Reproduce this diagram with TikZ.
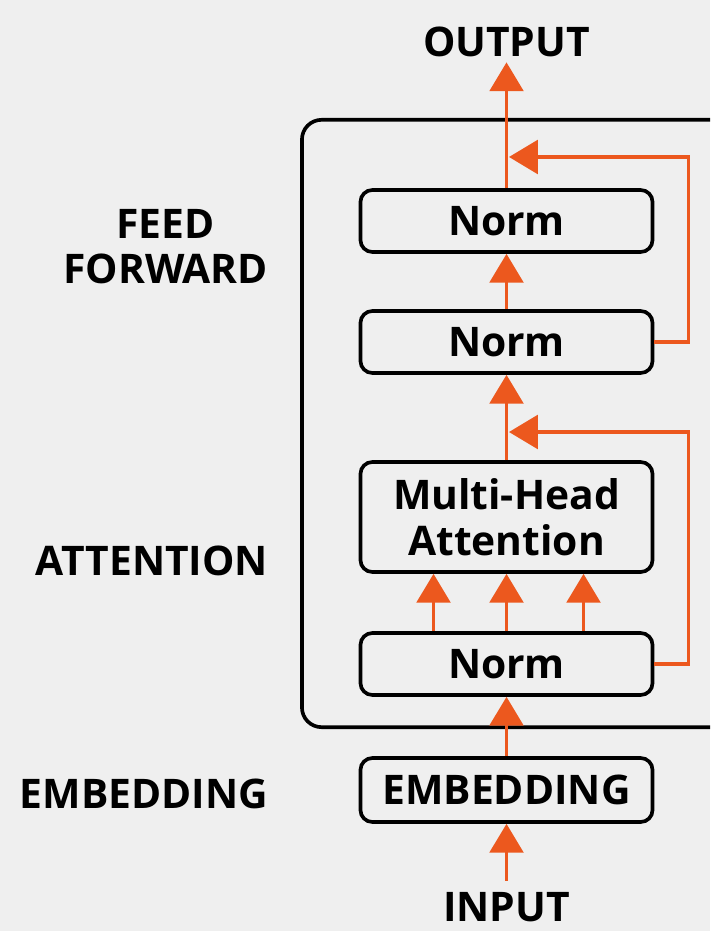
\documentclass[tikz,border=0pt]{standalone}
\usepackage{fontspec}
\setmainfont{Open Sans}
\usetikzlibrary{arrows.meta}
\definecolor{paper}{RGB}{239,239,239}
\definecolor{rust}{RGB}{236,88,30}
\newcommand\bigfont{\fontsize{29}{33}\selectfont\bfseries}

\begin{document}
\begin{tikzpicture}[x=0.025cm,y=-0.025cm,
  box/.style={draw,line width=2.6pt,rounded corners=8.5pt,minimum width=7.3cm,
    minimum height=1.55cm,inner sep=0pt,font=\bigfont},
  lbl/.style={font=\bigfont,align=center},
  arr/.style={draw=rust,line width=2.5pt,-{Triangle[length=0.72cm,width=0.84cm]}}]
  \fill[paper] (0,0) rectangle (710,931);
  \clip (0,0) rectangle (710,931);
  \node[draw,line width=2.6pt,rounded corners=14pt,minimum width=11.45cm,
    minimum height=15.18cm] (block) at (531,423.5) {};
  \node[box] (normc) at (506.5,221) {Norm};
  \node[box] (normb) at (506.5,342) {Norm};
  \node[box,minimum height=2.75cm,align=center] (mha) at (506.5,517) {Multi-Head\\Attention};
  \node[box] (norma) at (506.5,664) {Norm};
  \node[box,minimum height=1.6cm] (embed) at (506.5,790) {EMBEDDING};
  \node[lbl,anchor=base] (output) at (506.5,57) {OUTPUT};
  \node[lbl,anchor=base,inner ysep=2pt] (input) at (506.5,921) {INPUT};
  \node[lbl,anchor=east,font=\fontsize{29}{32}\selectfont\bfseries] (ffwd) at (273,247) {FEED\\FORWARD};
  \node[lbl,anchor=base east] (attn) at (273,575) {ATTENTION};
  \node[lbl,anchor=base east] (emb) at (273,808) {EMBEDDING};
  \coordinate (join1) at (509,432);
  \coordinate (join2) at (509,157);
  \draw[arr] ([yshift=0.2cm]input.north) -- (embed);
  \draw[arr] (embed) -- (norma);
  \foreach \dx in {-73,0,77}
    \draw[arr] ([xshift=\dx*0.025cm]norma.north) -- ([xshift=\dx*0.025cm]mha.south);
  \draw[arr] (mha) -- (normb);
  \draw[arr] (normb) -- (normc);
  \draw[arr] (normc) -- (output);
  \draw[arr] (norma.east) -- ++(34,0) |- (join1);
  \draw[arr] (normb.east) -- ++(34,0) |- (join2);
\end{tikzpicture}
\end{document}
